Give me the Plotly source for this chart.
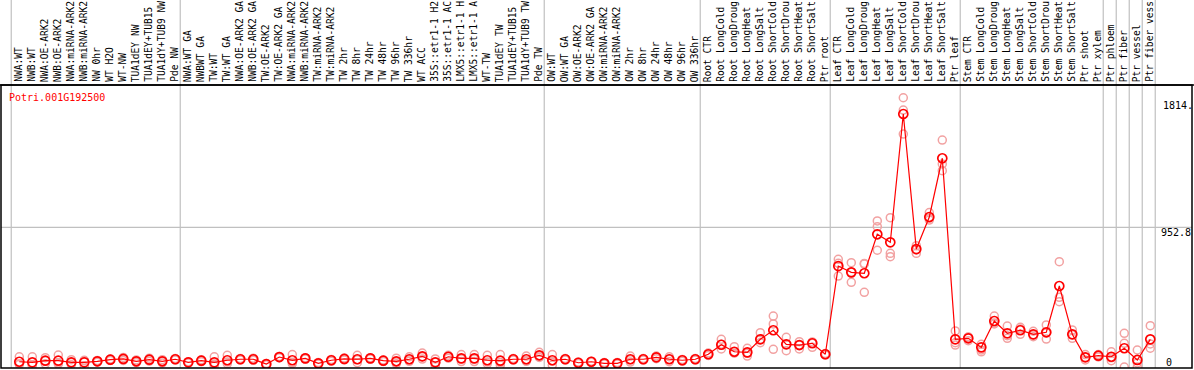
import plotly.graph_objects as go

# ---------------- data ----------------
gene = "Potri.001G192500"

labels_nw = ["NWA:WT", "NWB:WT", "NWA:OE-ARK2", "NWB:OE-ARK2", "NWA:miRNA-ARK2", "NWB:miRNA-ARK2",
             "NW 0hr", "WT H2O", "WT-NW", "TUA1dEY NW", "TUA1dEY+TUB15", "TUA1dY+TUB9 NW", "Pde NW"]
labels_tw = ["NWA:WT GA", "NWBWT GA", "TW:WT", "TW:WT GA", "NWA:OE-ARK2 GA", "NWB:OE-ARK2 GA",
             "TW:OE-ARK2", "TW:OE-ARK2 GA", "NWA:miRNA-ARK2", "NWB:miRNA-ARK2", "TW:miRNA-ARK2",
             "TW:miRNA-ARK2", "TW 2hr", "TW 8hr", "TW 24hr", "TW 48hr", "TW 96hr", "TW 336hr", "WT ACC",
             "35S::etr1-1 H2", "35S::etr1-1 AC", "LMX5::etr1-1 H", "LMX5::etr1-1 A", "WT-TW",
             "TUA1dEY TW", "TUA1dEY+TUB15", "TUA1dY+TUB9 TW", "Pde TW"]
labels_ow = ["OW:WT", "OW:WT GA", "OW:OE-ARK2", "OW:OE-ARK2 GA", "OW:miRNA-ARK2", "OW:miRNA-ARK2",
             "OW 2hr", "OW 8hr", "OW 24hr", "OW 48hr", "OW 96hr", "OW 336hr"]
labels_root = ["Root CTR", "Root LongCold", "Root LongDroug", "Root LongHeat", "Root LongSalt",
               "Root ShortCold", "Root ShortDrou", "Root ShortHeat", "Root ShortSalt", "Ptr root"]
labels_leaf = ["Leaf CTR", "Leaf LongCold", "Leaf LongDroug", "Leaf LongHeat", "Leaf LongSalt",
               "Leaf ShortCold", "Leaf ShortDrou", "Leaf ShortHeat", "Leaf ShortSalt", "Ptr leaf"]
labels_stem = ["Stem CTR", "Stem LongCold", "Stem LongDroug", "Stem LongHeat", "Stem LongSalt",
               "Stem ShortCold", "Stem ShortDrou", "Stem ShortHeat", "Stem ShortSalt", "Ptr shoot",
               "Ptr xylem"]
labels_ptr = ["Ptr phloem", "Ptr fiber", "Ptr vessel", "Ptr fiber vess"]

groups = [labels_nw, labels_tw, labels_ow, labels_root, labels_leaf, labels_stem,
          ["Ptr phloem"], ["Ptr fiber"], ["Ptr vessel"], ["Ptr fiber vess"]]
labels = labels_nw + labels_tw + labels_ow + labels_root + labels_leaf + labels_stem + labels_ptr

means = [36, 32, 43, 43, 32, 32, 39, 50, 55, 39, 50, 39, 53,
         32, 43, 32, 46, 53, 53, 20, 68, 46, 59, 25, 46, 55, 53, 59, 43, 39, 53, 73, 32, 70, 59, 59,
         46, 43, 53, 53, 80,
         46, 53, 29, 36, 25, 25, 53, 53, 66, 53, 46, 53,
         87, 152, 104, 100, 189, 251, 155, 150, 162, 87,
         689, 646, 640, 906, 851, 1727, 805, 1024, 1425, 189,
         196, 134, 314, 230, 251, 223, 237, 553, 223, 66, 77,
         70, 128, 48, 189]

reps = [[70, 20, 18], [70, 14, 12], [64, 43, 22], [82, 27, 20], [50, 30, 16], [46, 43, 7],
        [45, 39, 33], [55, 50, 45], [65, 55, 45], [48, 39, 30], [60, 50, 40], [50, 39, 28],
        [58, 53, 48],
        [36, 32, 28], [50, 43, 36], [70, 20, 6], [80, 35, 23], [58, 53, 48], [60, 53, 46],
        [24, 20, 16], [72, 68, 64], [85, 30, 23], [64, 59, 54], [30, 25, 20], [52, 46, 40],
        [62, 55, 48], [80, 50, 29], [64, 59, 54], [48, 43, 38], [60, 35, 22], [70, 50, 39],
        [95, 70, 54], [55, 32, 9], [80, 70, 60], [85, 55, 37], [85, 55, 37], [80, 35, 23],
        [85, 30, 14], [58, 53, 48], [75, 45, 39], [100, 75, 65],
        [85, 40, 13], [58, 53, 48], [34, 29, 24], [40, 36, 32], [30, 25, 20], [30, 25, 20],
        [75, 50, 34], [58, 53, 48], [75, 66, 57], [70, 53, 36], [52, 46, 40], [58, 53, 48],
        [95, 87, 79], [189, 155, 123], [139, 104, 94], [128, 94, 75], [234, 189, 166],
        [348, 294, 121], [203, 155, 111], [173, 150, 123], [171, 162, 134], [92, 87, 82],
        [735, 708, 621], [712, 646, 578], [707, 703, 510], [997, 958, 797], [1019, 776, 753],
        [1838, 1754, 1590], [828, 799, 776], [1054, 1015, 1003], [1549, 1386, 1340],
        [246, 166, 150],
        [205, 203, 180], [155, 116, 104], [348, 300, 294], [280, 214, 196], [271, 259, 223],
        [244, 218, 207], [287, 233, 191], [719, 476, 446], [253, 220, 196], [85, 66, 48],
        [85, 77, 69],
        [104, 63, 43], [230, 162, 0], [116, 28, 0], [282, 157, 128]]

y_ticks = [0, 952.8, 1814]
y_tick_text = ["0", "952.8", "1814."]

# ---------------- layout geometry ----------------
W, H = 1194, 370
PX_L, PX_R = 1, 1192          # plot area left/right (px)
PY_T, PY_B = 85, 368          # plot area top/bottom (px)
X_RANGE = [-1.4077, -1.4077 + (PX_R - PX_L) / 13.0]
Y_RANGE = [-6.8, 1925.0]

def xpaper(v):
    dom0, dom1 = PX_L / W, PX_R / W
    return dom0 + (v - X_RANGE[0]) / (X_RANGE[1] - X_RANGE[0]) * (dom1 - dom0)

def ypaper_px(py):
    return 1 - py / H

FONT = "DejaVu Sans Mono"
n = len(labels)
xs = list(range(n))

fig = go.Figure()

# replicate points
rx, ry = [], []
for i, r in enumerate(reps):
    for v in r:
        rx.append(i)
        ry.append(v)
fig.add_trace(go.Scatter(x=rx, y=ry, mode="markers",
                         marker=dict(symbol="circle-open", size=8, color="#f2a2a2",
                                     line=dict(width=1.5, color="#f2a2a2")),
                         hoverinfo="skip", showlegend=False, cliponaxis=True))
# mean line
fig.add_trace(go.Scatter(x=xs, y=means, mode="lines+markers",
                         line=dict(color="#ff0000", width=1.2),
                         marker=dict(symbol="circle-open", size=9, color="#ff0000",
                                     line=dict(width=1.7, color="#ff0000")),
                         hovertext=labels, showlegend=False, cliponaxis=True))

shapes = []
# group separators (full height)
start = 0
bounds = [0]
for g in groups:
    start += len(g)
    bounds.append(start)
for b in bounds:
    xp = xpaper(b - 0.62)
    shapes.append(dict(type="line", xref="paper", yref="paper", x0=xp, x1=xp,
                       y0=ypaper_px(PY_B), y1=1.0, line=dict(color="#c0c0c0", width=1.2), layer="below"))
# horizontal grid at middle tick
shapes.append(dict(type="line", xref="paper", yref="y", x0=PX_L / W, x1=PX_R / W,
                   y0=y_ticks[1], y1=y_ticks[1], line=dict(color="#c0c0c0", width=1.2), layer="below"))
# frame
shapes.append(dict(type="rect", xref="paper", yref="paper", x0=PX_L / W, x1=PX_R / W,
                   y0=ypaper_px(PY_B), y1=ypaper_px(PY_T), line=dict(color="black", width=1.5)))
shapes.append(dict(type="line", xref="paper", yref="paper", x0=0, x1=1,
                   y0=ypaper_px(PY_T), y1=ypaper_px(PY_T), line=dict(color="black", width=1.5)))

annotations = []
for i, lab in enumerate(labels):
    annotations.append(dict(text=lab, x=xpaper(i) - 1 / W, xref="paper", y=ypaper_px(83), yref="paper",
                            xanchor="center", yanchor="bottom", textangle=-90, showarrow=False,
                            font=dict(family=FONT, size=9.6, color="black"), borderpad=0))
annotations.append(dict(text=gene, x=7 / W, xref="paper", y=ypaper_px(97), yref="paper",
                        xanchor="left", yanchor="middle", showarrow=False,
                        font=dict(family=FONT, size=10, color="#ff0000")))
label_py = [362, 232, 105]
label_px = [1164, 1159, 1161]
for t, py, px in zip(y_tick_text, label_py, label_px):
    annotations.append(dict(text=t, x=px / W, xref="paper", y=ypaper_px(py), yref="paper",
                            xanchor="left", yanchor="middle", showarrow=False,
                            font=dict(family=FONT, size=10, color="black")))

fig.update_layout(
    width=W, height=H, margin=dict(l=0, r=0, t=0, b=0),
    paper_bgcolor="white", plot_bgcolor="white",
    xaxis=dict(domain=[PX_L / W, PX_R / W], range=X_RANGE, visible=False, showgrid=False, zeroline=False),
    yaxis=dict(domain=[ypaper_px(PY_B), ypaper_px(PY_T)], range=Y_RANGE, visible=False,
               showgrid=False, zeroline=False),
    shapes=shapes, annotations=annotations, showlegend=False,
)

fig.write_html("out.html", config={"displayModeBar": False},
               post_script="document.body.style.margin='0';document.body.style.overflow='hidden';")
